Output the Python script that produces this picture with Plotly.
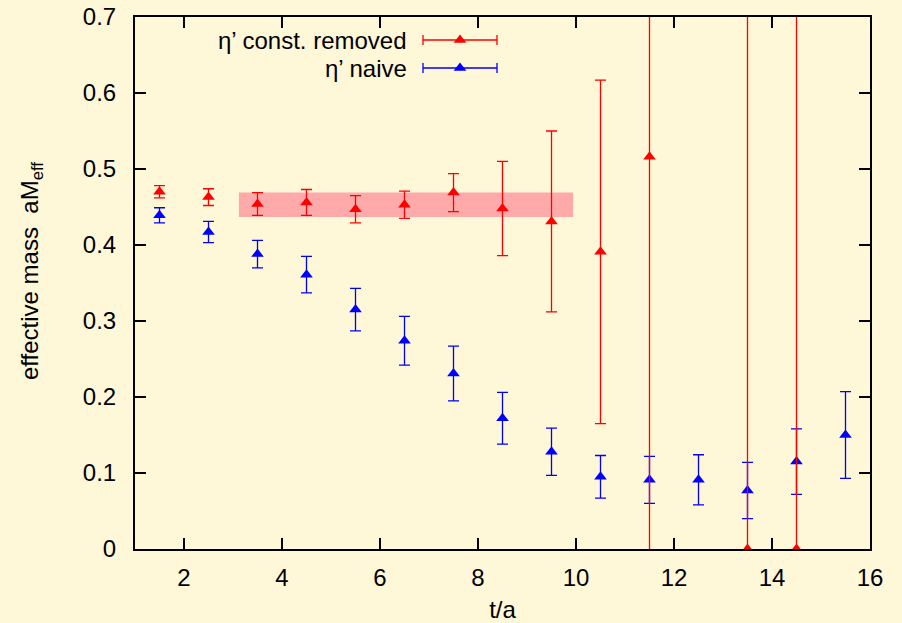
import plotly.graph_objects as go

# time slices
t = [1.5, 2.5, 3.5, 4.5, 5.5, 6.5, 7.5, 8.5, 9.5, 10.5, 11.5, 12.5, 13.5, 14.5, 15.5]

# eta' effective mass, constant removed
t_removed = [1.5, 2.5, 3.5, 4.5, 5.5, 6.5, 7.5, 8.5, 9.5, 10.5, 11.5, 13.5, 14.5]
m_removed = [0.470, 0.463, 0.454, 0.456, 0.447, 0.453, 0.469, 0.448, 0.431, 0.391, 0.516, 0.0, 0.0]
e_removed = [0.008, 0.011, 0.015, 0.017, 0.018, 0.018, 0.025, 0.062, 0.119, 0.226, 0.60, 1.0, 1.0]

# eta' effective mass, naive
m_naive = [0.439, 0.417, 0.388, 0.361, 0.315, 0.274, 0.231, 0.172, 0.128, 0.095, 0.091, 0.091, 0.077, 0.115, 0.150]
e_naive = [0.010, 0.014, 0.018, 0.024, 0.028, 0.032, 0.036, 0.034, 0.031, 0.028, 0.031, 0.033, 0.037, 0.043, 0.057]

# plateau fit
fit_t = [3.12, 9.94]
fit_mass = 0.453
fit_err = 0.016

RED = "#ff0000"
BLUE = "#0000ff"
BAND = "#ffaaaa"
BG = "#fef7d8"
FONT = "Liberation Sans, Arial, sans-serif"
FS = 24
MS = 11

fig = go.Figure()

# fit band
fig.add_trace(go.Scatter(
    x=[fit_t[0], fit_t[1], fit_t[1], fit_t[0], fit_t[0]],
    y=[fit_mass - fit_err, fit_mass - fit_err, fit_mass + fit_err, fit_mass + fit_err, fit_mass - fit_err],
    mode="lines", fill="toself", fillcolor=BAND, line=dict(width=0),
    hoverinfo="skip", showlegend=False,
))

fig.add_trace(go.Scatter(
    x=t, y=m_naive, mode="markers", name="η’ naive",
    marker=dict(symbol="triangle-up", size=MS, color=BLUE),
    error_y=dict(type="data", array=e_naive, color=BLUE, thickness=1.3, width=5.5),
    showlegend=False,
))

fig.add_trace(go.Scatter(
    x=t_removed, y=m_removed, mode="markers", name="η’ const. removed",
    marker=dict(symbol="triangle-up", size=MS, color=RED),
    error_y=dict(type="data", array=e_removed, color=RED, thickness=1.3, width=5.5),
    showlegend=False,
))

# legend key, drawn on a pixel-scaled overlay axis
PW, PH = 735, 532
legend_rows = [("η’ const. removed", RED, 23), ("η’ naive", BLUE, 51)]
for label, col, py in legend_rows:
    yy = PH - py
    fig.add_trace(go.Scatter(
        x=[288, 362], y=[yy, yy], xaxis="x2", yaxis="y2", mode="lines",
        line=dict(color=col, width=1.3), hoverinfo="skip", showlegend=False,
    ))
    for xc in (288, 362):
        fig.add_trace(go.Scatter(
            x=[xc, xc], y=[yy - 5, yy + 5], xaxis="x2", yaxis="y2", mode="lines",
            line=dict(color=col, width=1.3), hoverinfo="skip", showlegend=False,
        ))
    fig.add_trace(go.Scatter(
        x=[325], y=[yy], xaxis="x2", yaxis="y2", mode="markers",
        marker=dict(symbol="triangle-up", size=MS, color=col),
        hoverinfo="skip", showlegend=False,
    ))
    fig.add_annotation(
        x=273, y=yy, xref="x2", yref="y2", text=label, showarrow=False,
        xanchor="right", yanchor="middle", borderpad=0,
        font=dict(family=FONT, size=FS, color="black"),
    )

# y-axis title
fig.add_annotation(
    x=-104 / PW, y=(PH - 254) / PH, xref="paper", yref="paper",
    text="effective mass  aM<sub>eff</sub>", textangle=-90, showarrow=False,
    xanchor="center", yanchor="middle", font=dict(family=FONT, size=FS, color="black"),
)

axis_common = dict(
    showline=True, linecolor="black", linewidth=2, mirror="allticks",
    ticks="inside", ticklen=11, tickwidth=2, tickcolor="black",
    showgrid=False, zeroline=False, automargin=False,
    tickfont=dict(family=FONT, size=FS, color="black"),
)

fig.update_layout(
    width=902, height=623,
    margin=dict(l=135, r=32, t=17, b=74, autoexpand=False),
    paper_bgcolor=BG, plot_bgcolor=BG,
    font=dict(family=FONT, size=FS, color="black"),
    xaxis=dict(range=[1, 16], tick0=0, dtick=2, ticklabelstandoff=6,
               title=dict(text="t/a", font=dict(family=FONT, size=FS), standoff=24),
               **axis_common),
    yaxis=dict(range=[0, 0.7], tick0=0, dtick=0.1, ticklabelstandoff=12, **axis_common),
    xaxis2=dict(range=[0, PW], overlaying="x", visible=False, fixedrange=True),
    yaxis2=dict(range=[0, PH], overlaying="y", visible=False, fixedrange=True),
)

fig.write_html("out.html")
